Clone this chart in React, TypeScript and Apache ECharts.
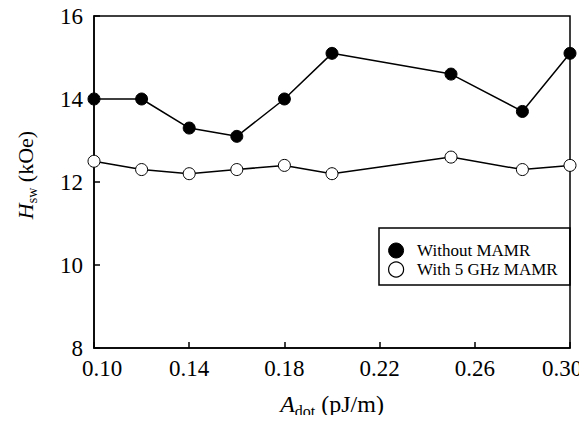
import React, { useEffect, useRef } from "react";
import * as echarts from "echarts";

const xValues = [0.1, 0.12, 0.14, 0.16, 0.18, 0.2, 0.25, 0.28, 0.3];
const withoutMamr = [14.0, 14.0, 13.3, 13.1, 14.0, 15.1, 14.6, 13.7, 15.1];
const withMamr = [12.5, 12.3, 12.2, 12.3, 12.4, 12.2, 12.6, 12.3, 12.4];
const xTicks = [0.1, 0.14, 0.18, 0.22, 0.26, 0.3];
const seriesNames = ["Without MAMR", "With 5 GHz MAMR"];

const FONT = "Liberation Serif";

export default function App() {
  const ref = useRef<HTMLDivElement>(null);
  useEffect(() => {
    if (!ref.current) return;
    const chart = echarts.init(ref.current, null, { renderer: "svg" });
    const pairs = (ys: number[]) => xValues.map((x, i) => [x, ys[i]]);
    const xNameRich = {
      i: { fontFamily: FONT, fontStyle: "italic", fontSize: 24, color: "#000", lineHeight: 30, verticalAlign: "middle" },
      sub: { fontFamily: FONT, fontSize: 16, color: "#000", lineHeight: 30, verticalAlign: "bottom" },
      n: { fontFamily: FONT, fontSize: 24, color: "#000", lineHeight: 30, verticalAlign: "middle" },
    };
    const yNameRich = {
      i: { fontFamily: FONT, fontStyle: "italic", fontSize: 22, color: "#000", lineHeight: 28, verticalAlign: "middle" },
      sub: { fontFamily: FONT, fontSize: 14, color: "#000", lineHeight: 28, verticalAlign: "bottom" },
      n: { fontFamily: FONT, fontSize: 22, color: "#000", lineHeight: 28, verticalAlign: "middle" },
    };
    const tickLabelStyle = { fontFamily: FONT, fontSize: 23, color: "#000", lineHeight: 18 };
    chart.setOption({
      animation: false,
      backgroundColor: "#fff",
      textStyle: { fontFamily: FONT, color: "#000" },
      grid: {
        left: 94,
        right: 17,
        top: 16,
        bottom: 75,
        outerBoundsMode: "none",
        containLabel: false,
        show: true,
        borderColor: "#000",
        borderWidth: 1.5,
        backgroundColor: "transparent",
      },
      xAxis: {
        type: "value",
        min: 0.1,
        max: 0.3,
        name: "{i|A}{sub|dot}{n| (pJ/m)}",
        nameLocation: "middle",
        nameGap: 41,
        nameTextStyle: { rich: xNameRich },
        axisLine: { lineStyle: { color: "#000", width: 1.5 } },
        axisTick: { inside: true, length: 6, lineStyle: { color: "#000", width: 1.5 }, customValues: xTicks },
        axisLabel: {
          customValues: xTicks,
          formatter: (v: number) => {
            const s = v.toFixed(2);
            if (Math.abs(v - xTicks[0]) < 1e-9) return "{l|" + s + "}";
            if (Math.abs(v - xTicks[xTicks.length - 1]) < 1e-9) return "{r|" + s + "}";
            return "{c|" + s + "}";
          },
          ...tickLabelStyle,
          margin: 11,
          rich: {
            l: { ...tickLabelStyle, padding: [0, 0, 0, 16] },
            r: { ...tickLabelStyle, padding: [0, 16, 0, 0] },
            c: { ...tickLabelStyle },
          },
        },
        splitLine: { show: false },
      },
      yAxis: {
        type: "value",
        min: 8,
        max: 16,
        interval: 2,
        name: "{i|H}{sub|sw}{n| (kOe)}",
        nameLocation: "middle",
        nameGap: 55,
        nameRotate: 90,
        nameTextStyle: { rich: yNameRich, padding: [0, 0, 0, 14] },
        axisLine: { show: true, lineStyle: { color: "#000", width: 1.5 } },
        axisTick: { show: true, inside: true, length: 6, lineStyle: { color: "#000", width: 1.5 } },
        axisLabel: { fontFamily: FONT, fontSize: 23, lineHeight: 16, color: "#000", margin: 11 },
        splitLine: { show: false },
      },
      legend: {
        orient: "vertical",
        left: 383,
        top: 236,
        itemWidth: 32,
        itemHeight: 15,
        itemGap: 0,
        icon: "circle",
        textStyle: { fontFamily: FONT, fontSize: 17, color: "#000", lineHeight: 19 },
        data: [
          { name: seriesNames[0], itemStyle: { color: "#000", borderColor: "#000", borderWidth: 1 } },
          { name: seriesNames[1], itemStyle: { color: "#fff", borderColor: "#000", borderWidth: 1.2 } },
        ],
      },
      graphic: [
        {
          type: "rect",
          shape: { x: 379, y: 228, width: 191, height: 57 },
          style: { fill: "none", stroke: "#000", lineWidth: 1.5 },
          z: 10,
        },
      ],
      series: [
        {
          name: seriesNames[0],
          type: "line",
          data: pairs(withoutMamr),
          symbol: "circle",
          symbolSize: 12,
          lineStyle: { color: "#000", width: 1.5 },
          itemStyle: { color: "#000", borderColor: "#000", borderWidth: 1 },
          z: 3,
        },
        {
          name: seriesNames[1],
          type: "line",
          data: pairs(withMamr),
          symbol: "circle",
          symbolSize: 12,
          lineStyle: { color: "#000", width: 1.5 },
          itemStyle: { color: "#fff", borderColor: "#000", borderWidth: 1 },
          z: 3,
        },
      ],
    });
    return () => chart.dispose();
  }, []);
  return <div ref={ref} style={{ width: 587, height: 423, margin: -8 }} />;
}
